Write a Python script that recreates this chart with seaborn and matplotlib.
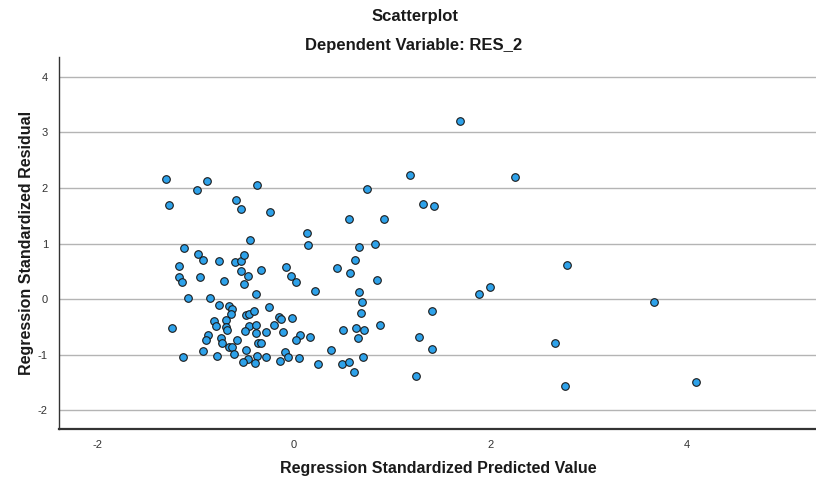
import pandas as pd
import seaborn as sns
import matplotlib.pyplot as plt

# Standardized predicted values (x) and standardized residuals (y)
pred = [-1.30, -0.99, -0.88, -0.38, -1.27, -0.59, -0.54, -0.24, 0.13, 0.14,
        -0.45, -1.12, -0.98, -0.93, -0.76, -0.60, -0.54, -0.51, -1.17, -0.54,
        -0.47, -0.33, -0.08, -0.03, 0.02, -1.17, -1.14, -0.96, -0.71, -0.51,
        -0.39, 0.21, -1.08, -0.85, -0.76, -0.66, -0.63, -0.64, -0.49, -0.46,
        -0.41, -0.25, -0.15, -0.13, -0.02, -1.24, -0.81, -0.69, -0.79, -0.69,
        -0.68, -0.46, -0.39, -0.50, -0.20, -0.28, -0.11, -0.39, -0.87, -0.89,
        -0.74, -0.58, 0.06, 0.02, 0.16, -0.73, -0.37, -0.33, -0.66, -0.63,
        -0.93, -0.49, -0.61, -0.09, -1.13, -0.78, -0.38, -0.28, -0.06, 0.05,
        -0.47, -0.52, -0.40, -0.14, 0.24, 1.18, 0.74, 1.31, 1.42, 0.56,
        0.92, 0.66, 0.82, 0.62, 0.44, 0.57, 0.84, 0.66, 0.69, 0.68,
        1.40, 0.50, 0.63, 0.71, 0.65, 0.88, 1.27, 1.40, 0.38, 0.49,
        0.56, 0.70, 0.61, 1.24, 1.69, 2.25, 2.78, 1.99, 1.88, 2.66,
        2.76, 3.66, 4.09]
resid = [2.16, 1.97, 2.12, 2.05, 1.69, 1.79, 1.63, 1.57, 1.19, 0.98,
         1.07, 0.92, 0.81, 0.71, 0.69, 0.67, 0.68, 0.80, 0.59, 0.50,
         0.42, 0.52, 0.57, 0.42, 0.30, 0.39, 0.30, 0.39, 0.32, 0.27,
         0.09, 0.14, 0.02, 0.02, -0.10, -0.12, -0.18, -0.27, -0.28, -0.27,
         -0.21, -0.15, -0.33, -0.36, -0.35, -0.53, -0.39, -0.37, -0.49, -0.51,
         -0.55, -0.49, -0.46, -0.58, -0.47, -0.59, -0.59, -0.62, -0.65, -0.74,
         -0.71, -0.74, -0.65, -0.73, -0.69, -0.80, -0.80, -0.80, -0.87, -0.86,
         -0.94, -0.92, -0.99, -0.95, -1.04, -1.03, -1.03, -1.05, -1.05, -1.06,
         -1.08, -1.13, -1.15, -1.11, -1.17, 2.23, 1.99, 1.71, 1.68, 1.44,
         1.44, 0.94, 0.99, 0.71, 0.56, 0.47, 0.34, 0.13, -0.05, -0.25,
         -0.22, -0.55, -0.53, -0.55, -0.70, -0.47, -0.69, -0.90, -0.92, -1.17,
         -1.14, -1.05, -1.32, -1.39, 3.21, 2.20, 0.61, 0.21, 0.09, -0.79,
         -1.56, -0.06, -1.49]

x_ticks = [-2, 0, 2, 4]
y_ticks = [-2, -1, 0, 1, 2, 3, 4]

df = pd.DataFrame({'pred': pred, 'resid': resid})

sns.set_style('white')
plt.rcParams['font.family'] = ['Liberation Sans', 'DejaVu Sans']
plt.rcParams['axes.unicode_minus'] = False

fig = plt.figure(figsize=(8.16, 4.83), dpi=100)
ax = fig.add_axes([0.0723, 0.112, 0.93, 0.77])

sns.scatterplot(data=df, x='pred', y='resid', ax=ax, s=30,
                color='#2ea2ea', edgecolor='#1a1a1a', linewidth=0.8, zorder=3)

ax.set_xlim(-2.39, 5.33)
ax.set_ylim(-2.34, 4.36)
ax.set_xticks(x_ticks)
ax.set_yticks(y_ticks)
ax.yaxis.grid(True, color='#b4b4b4', linewidth=1.0)
ax.xaxis.grid(False)
ax.tick_params(length=0, labelsize=8, colors='#333333', pad=8)

for side in ['top', 'right']:
    ax.spines[side].set_visible(False)
ax.spines['left'].set_color('#333333')
ax.spines['left'].set_linewidth(1.0)
ax.spines['bottom'].set_color('#333333')
ax.spines['bottom'].set_linewidth(1.6)

ax.set_xlabel('Regression Standardized Predicted Value', fontsize=11.5,
              fontweight='bold', color='#1a1a1a', labelpad=8)
ax.set_ylabel('Regression Standardized Residual', fontsize=11.5,
              fontweight='bold', color='#1a1a1a', labelpad=3)

fig.text(0.509, 0.965, 'Scatterplot', ha='center', va='center',
         fontsize=12, fontweight='bold', color='#1a1a1a')
fig.text(0.507, 0.905, 'Dependent Variable: RES_2', ha='center', va='center',
         fontsize=12, fontweight='bold', color='#1a1a1a')

fig.savefig('out.png', dpi=100)
